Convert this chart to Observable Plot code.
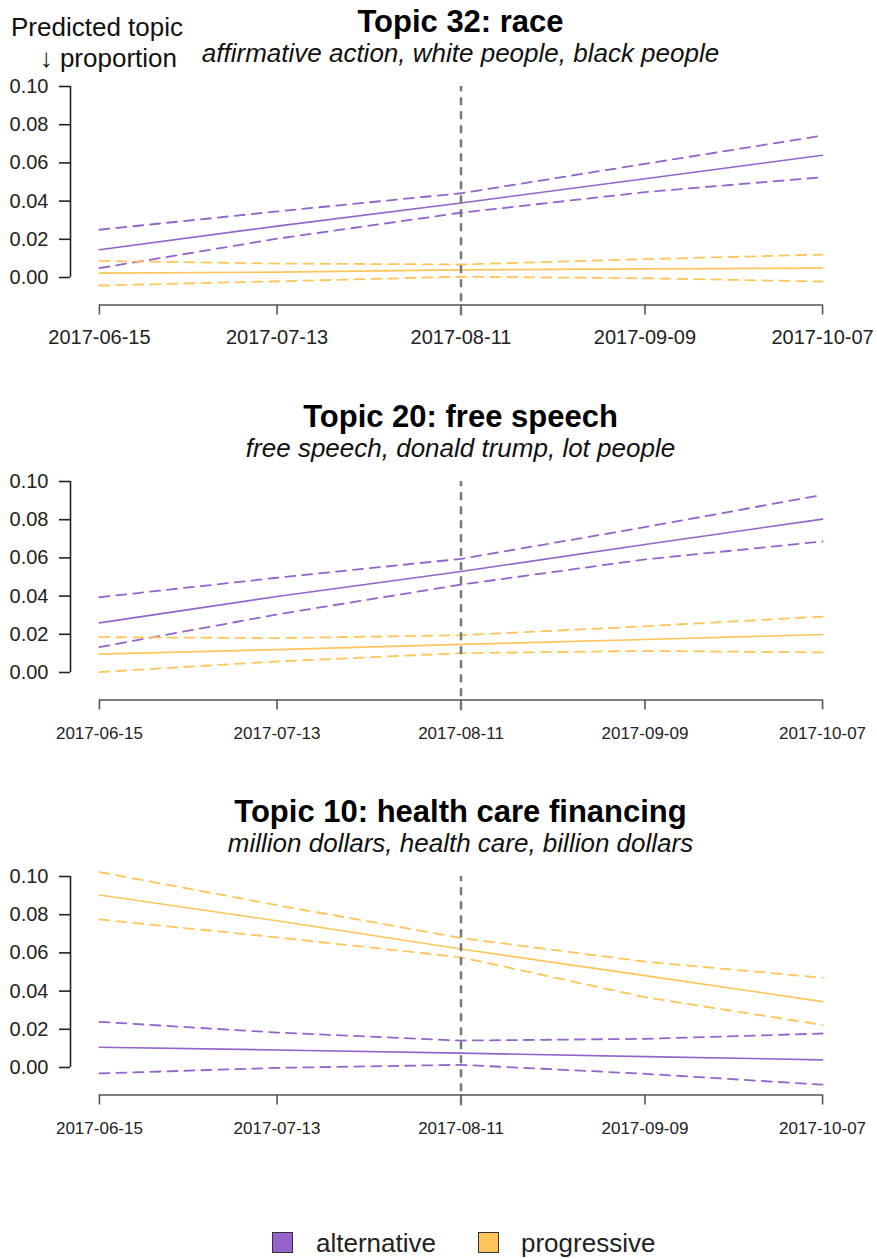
<!DOCTYPE html>
<html>
<head>
<meta charset="utf-8">
<script src="https://cdn.jsdelivr.net/npm/d3@7"></script>
<script src="https://cdn.jsdelivr.net/npm/@observablehq/plot@0.6"></script>
<style>
  html, body { margin: 0; padding: 0; background: #fff; }
  #root { position: relative; width: 877px; height: 1259px; overflow: hidden; }
  .abs { position: absolute; white-space: nowrap; }
</style>
</head>
<body>
<div id="root"></div>
<script>
// ---------------- data ----------------
const tickDates = ["2017-06-15", "2017-07-13", "2017-08-11", "2017-09-09", "2017-10-07"];
const yTicks = [0, 0.02, 0.04, 0.06, 0.08, 0.10];
const yLimits = [-0.01, 0.10];
const eventDate = "2017-08-11";
const eventSpan = [-0.02, 0.10];

const sources = ["alternative", "progressive"];
const sourceColors = ["#9463CC", "#FFC55A"];

const topicTitles = ["Topic 32: race", "Topic 20: free speech", "Topic 10: health care financing"];
const topicTerms = [
  "affirmative action, white people, black people",
  "free speech, donald trump, lot people",
  "million dollars, health care, billion dollars"
];

// Topic 32: race  (values at tickDates)
const raceAltMean  = [0.0145, 0.0269, 0.0390, 0.0517, 0.0640];
const raceAltUpper = [0.0250, 0.0346, 0.0441, 0.0595, 0.0743];
const raceAltLower = [0.0049, 0.0203, 0.0339, 0.0447, 0.0525];
const raceProMean  = [0.0023, 0.0028, 0.0040, 0.0045, 0.0049];
const raceProUpper = [0.0087, 0.0073, 0.0068, 0.0096, 0.0120];
const raceProLower = [-0.0042, -0.0020, 0.0004, -0.0004, -0.0021];

// Topic 20: free speech
const speechAltMean  = [0.0260, 0.0398, 0.0529, 0.0670, 0.0803];
const speechAltUpper = [0.0394, 0.0496, 0.0595, 0.0761, 0.0930];
const speechAltLower = [0.0133, 0.0304, 0.0460, 0.0592, 0.0686];
const speechProMean  = [0.0096, 0.0120, 0.0147, 0.0173, 0.0199];
const speechProUpper = [0.0185, 0.0180, 0.0195, 0.0242, 0.0293];
const speechProLower = [0.0002, 0.0058, 0.0101, 0.0113, 0.0105];

// Topic 10: health care financing
const healthAltMean  = [0.0106, 0.0092, 0.0075, 0.0057, 0.0040];
const healthAltUpper = [0.0239, 0.0183, 0.0141, 0.0150, 0.0178];
const healthAltLower = [-0.0031, -0.0002, 0.0014, -0.0033, -0.0090];
const healthProMean  = [0.0903, 0.0768, 0.0620, 0.0481, 0.0345];
const healthProUpper = [0.1023, 0.0850, 0.0678, 0.0554, 0.0470];
const healthProLower = [0.0775, 0.0681, 0.0577, 0.0368, 0.0223];

const panelSeries = [
  {alternative: [raceAltMean, raceAltLower, raceAltUpper], progressive: [raceProMean, raceProLower, raceProUpper]},
  {alternative: [speechAltMean, speechAltLower, speechAltUpper], progressive: [speechProMean, speechProLower, speechProUpper]},
  {alternative: [healthAltMean, healthAltLower, healthAltUpper], progressive: [healthProMean, healthProLower, healthProUpper]}
];

// ---------------- layout ----------------
const FONT = "'Liberation Sans', Arial, Helvetica, 'DejaVu Sans', sans-serif";
const W = 877;
const PANEL_STEP = 395;
const root = document.getElementById("root");

function addText(txt, {x, baseline, size, weight = "normal", style = "normal", anchor = "start", color = "#111"}) {
  const d = document.createElement("div");
  d.className = "abs";
  d.textContent = txt;
  d.style.fontFamily = FONT;
  d.style.fontSize = size + "px";
  d.style.lineHeight = size + "px";
  d.style.fontWeight = weight;
  d.style.fontStyle = style;
  d.style.color = color;
  d.style.top = (baseline - 0.8465 * size) + "px";
  if (anchor === "middle") { d.style.left = x + "px"; d.style.transform = "translateX(-50%)"; }
  else if (anchor === "end") { d.style.right = (W - x) + "px"; }
  else { d.style.left = x + "px"; }
  root.appendChild(d);
  return d;
}

const parse = d3.utcParse("%Y-%m-%d");
const fmt = d3.utcFormat("%Y-%m-%d");
const xTicks = tickDates.map(parse);
const d0 = xTicks[0], d1 = xTicks[xTicks.length - 1];
const span = d1 - d0;
const xDomain = [new Date(+d0 - 0.04 * span), new Date(+d1 + 0.04 * span)];
const yr = yLimits[1] - yLimits[0];
const yDomain = [yLimits[0] - 0.04 * yr, yLimits[1] + 0.04 * yr];

// y-axis label
addText("Predicted topic", {x: 11, baseline: 36, size: 26});
addText("\u2193 proportion", {x: 177, baseline: 67, size: 26, anchor: "end"});

topicTitles.forEach((title, i) => {
  const off = i * PANEL_STEP;
  addText(title, {x: 460.5, baseline: 32 + off, size: 31, weight: "bold", anchor: "middle", color: "#000"});
  addText(topicTerms[i], {x: 460.5, baseline: 62.5 + off, size: 26, style: "italic", anchor: "middle", color: "#111"});

  const rows = [];
  sources.forEach(src => {
    const [mean, lower, upper] = panelSeries[i][src];
    xTicks.forEach((dt, j) => rows.push({source: src, date: dt, mean: mean[j], lower: lower[j], upper: upper[j]}));
  });

  const marks = [
    Plot.ruleY([{y: yDomain[0], x1: d0, x2: d1}], {y: "y", x1: "x1", x2: "x2", stroke: "#555", strokeWidth: 1.6}),
    Plot.ruleX([{x: xDomain[0], y1: yTicks[0], y2: yTicks[yTicks.length - 1]}], {x: "x", y1: "y1", y2: "y2", stroke: "#222", strokeWidth: 1.6}),
    Plot.axisY({anchor: "left", ticks: yTicks, tickFormat: d3.format(".2f"), tickSize: 11, tickPadding: 11, label: null, stroke: "#222", strokeWidth: 1.6, fill: "#222"}),
    Plot.axisX({anchor: "bottom", ticks: xTicks, tickFormat: fmt, tickSize: 10, tickPadding: i === 0 ? 15 : 17, fontSize: i === 0 ? 20 : 17, label: null, stroke: "#555", strokeWidth: 1.6, fill: "#222"})
  ];
  sources.forEach((src, k) => {
    const data = rows.filter(r => r.source === src);
    const color = sourceColors[k];
    marks.push(Plot.line(data, {x: "date", y: "upper", stroke: color, strokeWidth: 1.8, strokeDasharray: "10,7"}));
    marks.push(Plot.line(data, {x: "date", y: "lower", stroke: color, strokeWidth: 1.8, strokeDasharray: "10,7"}));
    marks.push(Plot.line(data, {x: "date", y: "mean", stroke: color, strokeWidth: 1.6}));
  });
  marks.push(Plot.ruleX([{x: parse(eventDate), y1: eventSpan[0], y2: eventSpan[1]}], {x: "x", y1: "y1", y2: "y2", stroke: "#777", strokeWidth: 2.5, strokeDasharray: "8,6"}));

  const chart = Plot.plot({
    width: W,
    height: 325,
    marginLeft: 70,
    marginRight: 26,
    marginTop: 7.6,
    marginBottom: 90.5,
    x: {type: "utc", domain: xDomain},
    y: {domain: yDomain},
    style: {fontFamily: FONT, fontSize: "20px", color: "#222", background: "transparent", overflow: "visible"},
    marks
  });
  chart.style.position = "absolute";
  chart.style.left = "0px";
  chart.style.top = (70 + off) + "px";
  root.appendChild(chart);
});

// legend
const legendX = [[272, 316], [478, 521]];
sources.forEach((src, k) => {
  const sq = document.createElement("div");
  sq.className = "abs";
  sq.style.left = legendX[k][0] + "px";
  sq.style.top = "1232px";
  sq.style.width = "19px";
  sq.style.height = "19px";
  sq.style.background = sourceColors[k];
  sq.style.border = "1px solid #333";
  root.appendChild(sq);
  addText(src, {x: legendX[k][1], baseline: 1252, size: 26, color: "#222"});
});
</script>
</body>
</html>
